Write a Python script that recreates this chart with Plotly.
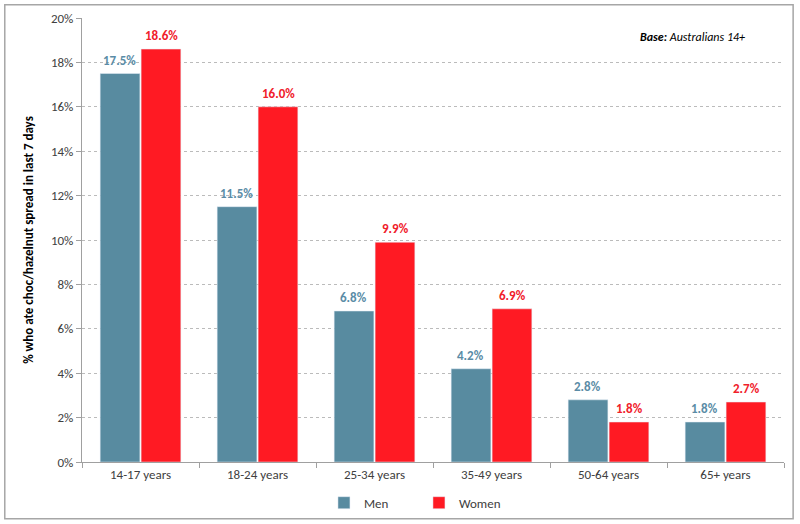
import plotly.graph_objects as go

categories = ["14-17 years", "18-24 years", "25-34 years", "35-49 years", "50-64 years", "65+ years"]
men = [17.5, 11.5, 6.8, 4.2, 2.8, 1.8]
women = [18.6, 16.0, 9.9, 6.9, 1.8, 2.7]
tick_vals = [0, 2, 4, 6, 8, 10, 12, 14, 16, 18, 20]
tick_text = [f"{v}%" for v in tick_vals]

men_color = "#588BA0"
women_color = "#FF1A23"
men_label = "#5A8CA6"
women_label = "#F0202A"
font_family = "Carlito, Lato, sans-serif"

fig = go.Figure()
fig.add_trace(go.Bar(name="Men", x=categories, y=men, marker_color=men_color))
fig.add_trace(go.Bar(name="Women", x=categories, y=women, marker_color=women_color))

annotations = []
for vals, col, shift in ((men, men_label, -21), (women, women_label, 21)):
    for c, v in zip(categories, vals):
        annotations.append(dict(x=c, y=v, xref="x", yref="y", text=f"<b>{v:.1f}%</b>",
                                showarrow=False, xshift=shift, yanchor="bottom", yshift=4,
                                font=dict(color=col, size=13, family=font_family)))
annotations.append(dict(text="<b><i>Base:</i></b><i> Australians 14+</i>", x=0.948, y=0.977,
                        xref="paper", yref="paper", xanchor="right", yanchor="top",
                        showarrow=False, font=dict(size=12, color="#000000", family=font_family)))

fig.update_layout(
    width=800, height=524,
    margin=dict(l=82, r=16, t=18, b=62, autoexpand=False),
    paper_bgcolor="white", plot_bgcolor="white",
    barmode="group", bargap=0.3, bargroupgap=0.03,
    font=dict(family=font_family, size=13, color="#404040"),
    showlegend=True,
    legend=dict(orientation="h", x=0.48, xanchor="center", y=-0.058, yanchor="top",
                bgcolor="rgba(0,0,0,0)", itemwidth=30, entrywidth=50,
                font=dict(size=13, color="#404040"), traceorder="normal"),
    xaxis=dict(showline=True, linecolor="#A0A0A0", linewidth=1, ticks="outside",
               tickson="boundaries", ticklen=5, tickcolor="#A0A0A0", showgrid=False,
               automargin=False, tickfont=dict(size=13, color="#404040")),
    yaxis=dict(range=[0, 20], tickvals=tick_vals, ticktext=tick_text,
               showline=True, linecolor="#A0A0A0", linewidth=1, ticks="outside",
               ticklen=5, tickcolor="#A0A0A0",
               showgrid=True, gridcolor="#BBBBBB", griddash="3px,3px", gridwidth=1,
               zeroline=False, automargin=False, tickfont=dict(size=13, color="#404040"),
               title=dict(text="<b>% who ate choc/hazelnut spread in last 7 days</b>",
                          font=dict(size=13, color="#000000"), standoff=14)),
    annotations=annotations,
    shapes=[dict(type="rect", xref="paper", yref="paper", x0=-0.11, x1=1.013,
                 y0=-0.128, y1=1.03, line=dict(color="#A6A6A6", width=1.5))],
)

fig.write_html("out.html", config={"displayModeBar": False},
               post_script="document.body.style.margin='0';")
